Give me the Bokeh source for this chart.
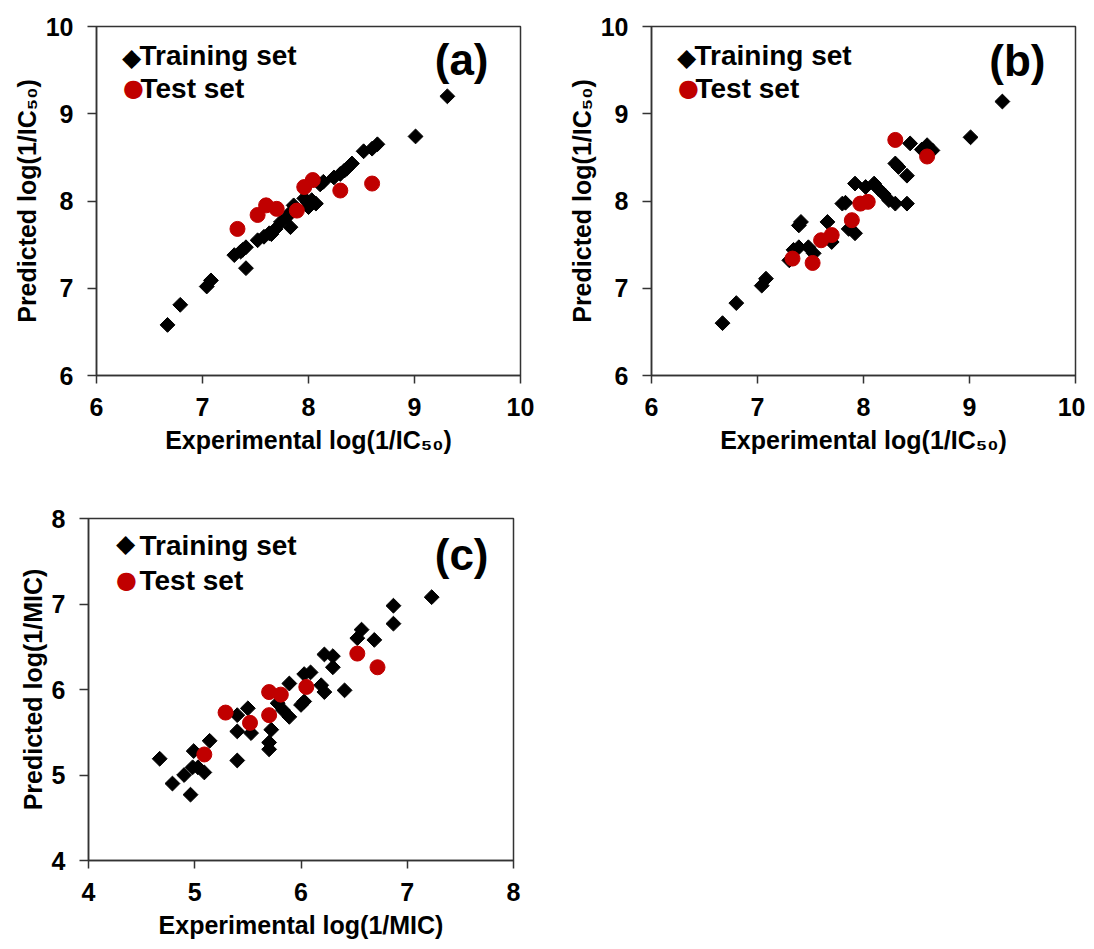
import numpy as np
from bokeh.plotting import figure
from bokeh.models import Range1d, FixedTicker, Label
from bokeh.layouts import column, row
from bokeh.embed import file_html
from bokeh.resources import INLINE

# ---------------- data ----------------
a_train_x = [9.31, 9.01, 8.65, 8.60, 8.52, 8.41, 8.36, 8.30, 8.24, 8.14, 8.11, 8.03, 8.00, 7.96,
             7.86, 7.83, 7.80, 7.83, 7.74, 7.69, 7.63, 7.58, 7.52, 7.41, 7.36, 7.30, 7.41, 7.08,
             7.04, 6.79, 6.67, 8.07, 7.99, 7.65, 7.38, 8.34]
a_train_y = [9.20, 8.74, 8.65, 8.60, 8.57, 8.43, 8.37, 8.31, 8.27, 8.22, 8.19, 8.01, 7.93, 8.03,
             7.95, 7.87, 7.82, 7.70, 7.76, 7.68, 7.63, 7.59, 7.55, 7.47, 7.42, 7.38, 7.23, 7.09,
             7.02, 6.81, 6.58, 7.97, 7.99, 7.62, 7.44, 8.35]
a_test_x = [7.33, 7.52, 7.60, 7.70, 7.89, 7.96, 8.04, 8.30, 8.60]
a_test_y = [7.68, 7.84, 7.95, 7.91, 7.89, 8.16, 8.24, 8.12, 8.20]

b_train_x = [9.31, 9.01, 8.65, 8.60, 8.55, 8.44, 8.41, 8.33, 8.30, 8.41, 8.30, 8.24, 8.19, 8.14,
             8.10, 8.02, 7.92, 7.80, 7.83, 7.92, 7.86, 7.66, 7.70, 7.41, 7.39, 7.53, 7.48, 7.39,
             7.34, 7.30, 7.08, 7.04, 6.80, 6.67]
b_train_y = [9.14, 8.73, 8.58, 8.64, 8.59, 8.66, 8.29, 8.39, 8.43, 7.97, 7.97, 8.01, 8.08, 8.14,
             8.20, 8.16, 8.20, 7.97, 7.98, 7.63, 7.68, 7.76, 7.53, 7.76, 7.72, 7.40, 7.47, 7.47,
             7.44, 7.32, 7.11, 7.03, 6.83, 6.60]
b_test_x = [8.30, 8.60, 8.04, 7.97, 7.89, 7.70, 7.60, 7.33, 7.52]
b_test_y = [8.70, 8.51, 7.99, 7.97, 7.78, 7.61, 7.55, 7.34, 7.29]

c_train_x = [7.23, 6.87, 6.87, 6.69, 6.57, 6.53, 6.30, 6.22, 6.30, 6.41, 6.22, 6.19, 6.09, 6.03,
             6.03, 6.00, 5.89, 5.89, 5.83, 5.78, 5.72, 5.70, 5.70, 5.50, 5.53, 5.40, 5.40, 5.40,
             5.14, 4.99, 5.09, 5.03, 4.98, 4.90, 4.79, 4.96, 4.67]
c_train_y = [7.08, 6.98, 6.77, 6.58, 6.70, 6.60, 6.39, 6.41, 6.26, 5.99, 5.97, 6.05, 6.20, 6.18,
             5.86, 5.82, 6.07, 5.68, 5.76, 5.84, 5.53, 5.38, 5.30, 5.78, 5.49, 5.70, 5.51, 5.17,
             5.40, 5.28, 5.03, 5.09, 5.09, 5.00, 4.90, 4.77, 5.19]
c_test_x = [5.09, 5.29, 5.52, 5.70, 5.70, 5.81, 6.05, 6.53, 6.72]
c_test_y = [5.24, 5.73, 5.61, 5.70, 5.97, 5.94, 6.03, 6.42, 6.26]

ab_ticks = [6, 7, 8, 9, 10]
c_ticks = [4, 5, 6, 7, 8]

FONT = "Liberation Sans"
RED = "#C00000"
AXC = "#333333"


def panel(tx, ty, sx, sy, ticks, xlabel, ylabel, tag, width, height, bl, br, bt, bb,
          leg, tagpos, ylab_standoff):
    lo, hi = ticks[0], ticks[-1]
    p = figure(width=width, height=height, x_range=Range1d(lo, hi), y_range=Range1d(lo, hi),
               output_backend="svg", toolbar_location=None,
               min_border_left=bl, min_border_right=br, min_border_top=bt, min_border_bottom=bb)
    p.grid.visible = False
    p.outline_line_color = AXC
    p.outline_line_width = 1.5
    p.background_fill_color = "white"
    p.border_fill_color = "white"
    for ax in (p.xaxis[0], p.yaxis[0]):
        ax.ticker = FixedTicker(ticks=ticks)
        ax.axis_line_color = AXC
        ax.axis_line_width = 1.5
        ax.major_tick_line_color = AXC
        ax.major_tick_line_width = 1.5
        ax.major_tick_in = 0
        ax.major_tick_out = 9
        ax.minor_tick_line_color = None
        ax.major_label_text_font = FONT
        ax.major_label_text_font_size = "25px"
        ax.major_label_text_font_style = "bold"
        ax.major_label_text_color = "black"
        ax.axis_label_text_font = FONT
        ax.axis_label_text_font_size = "25px"
        ax.axis_label_text_font_style = "bold"
        ax.axis_label_text_color = "black"
    p.xaxis[0].axis_label = xlabel
    p.yaxis[0].axis_label = ylabel
    p.xaxis[0].major_tick_out = 8
    p.xaxis[0].major_label_standoff = 14
    p.xaxis[0].axis_label_standoff = 7
    p.yaxis[0].major_label_standoff = 14
    p.yaxis[0].axis_label_standoff = ylab_standoff

    p.scatter(tx, ty, marker="square", angle=np.pi / 4, size=10.5,
              fill_color="black", line_color="black")
    p.scatter(sx, sy, marker="circle", size=15, fill_color=RED, line_color=RED)

    (dx, dy, cx, cy, t1x, t1y, t2x, t2y) = leg
    p.add_layout(Label(x=dx, y=dy, x_units="screen", y_units="screen", text="\u25c6",
                       text_font="DejaVu Sans", text_font_size="25px", text_color="black",
                       text_align="center", text_baseline="middle"))
    p.add_layout(Label(x=cx, y=cy, x_units="screen", y_units="screen", text="\u25cf",
                       text_font="DejaVu Sans", text_font_size="24px", text_color=RED,
                       text_align="center", text_baseline="middle"))
    for (tx_, ty_, txt) in ((t1x, t1y, "Training set"), (t2x, t2y, "Test set")):
        p.add_layout(Label(x=tx_, y=ty_, x_units="screen", y_units="screen", text=txt,
                           text_font=FONT, text_font_size="28px", text_font_style="bold",
                           text_color="black", text_align="left", text_baseline="middle"))
    p.add_layout(Label(x=tagpos[0], y=tagpos[1], x_units="screen", y_units="screen", text=tag,
                       text_font=FONT, text_font_size="44px", text_font_style="bold",
                       text_color="black", text_align="right", text_baseline="middle"))
    return p


ic_x = "Experimental log(1/IC\u2085\u2080)"
ic_y = "Predicted log(1/IC\u2085\u2080)"

pa = panel(a_train_x, a_train_y, a_test_x, a_test_y, ab_ticks, ic_x, ic_y, "(a)",
           548, 468, 96, 28, 26, 93,
           (35, 318, 37, 288, 43, 320, 44, 287), (392, 316), 2)
pb = panel(b_train_x, b_train_y, b_test_x, b_test_y, ab_ticks, ic_x, ic_y, "(b)",
           537, 468, 103, 10, 26, 93,
           (35, 318, 37, 288, 43, 320, 44, 287), (394, 315), 2)
pc = panel(c_train_x, c_train_y, c_test_x, c_test_y, c_ticks,
           "Experimental log(1/MIC)", "Predicted log(1/MIC)", "(c)",
           548, 473, 88, 35, 50, 75,
           (37, 317, 38, 281, 51, 315, 51, 280), (400, 306), 2)

layout = column(row(pa, pb), pc)
open("out.html", "w").write(file_html(layout, INLINE))
